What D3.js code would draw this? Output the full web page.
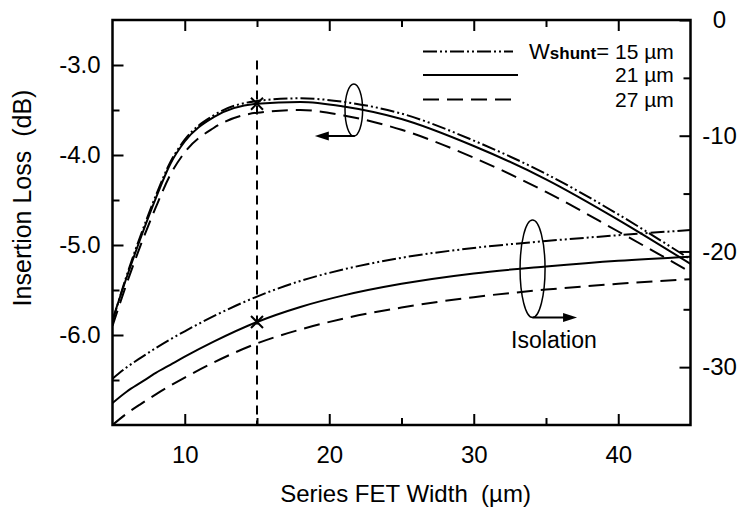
<!DOCTYPE html>
<html>
<head>
<meta charset="utf-8">
<script src="https://cdn.jsdelivr.net/npm/d3@7"></script>
<style>
  body { margin: 0; background: #fff; }
  text { font-family: "Liberation Sans", Arial, Helvetica, sans-serif; fill: #000; }
</style>
</head>
<body>
<script>
// series FET width (um)
var widths = [5, 6, 7, 8, 9, 10, 12, 15, 18, 21, 25, 30, 35, 40, 45];

// insertion loss (dB), left axis
var il15 = [-5.85, -5.33, -4.87, -4.45, -4.08, -3.83, -3.56, -3.40, -3.37, -3.41, -3.54, -3.84, -4.21, -4.66, -5.16];
var il21 = [-5.83, -5.35, -4.90, -4.48, -4.10, -3.85, -3.58, -3.43, -3.41, -3.46, -3.60, -3.90, -4.27, -4.72, -5.21];
var il27 = [-5.90, -5.42, -4.98, -4.58, -4.22, -3.97, -3.70, -3.53, -3.50, -3.56, -3.72, -4.03, -4.41, -4.85, -5.30];

// isolation (dB), right axis
var iso15 = [-31.0, -30.0, -29.15, -28.35, -27.6, -26.9, -25.6, -23.9, -22.55, -21.55, -20.55, -19.7, -19.1, -18.6, -18.15];
var iso21 = [-33.1, -32.1, -31.3, -30.5, -29.8, -29.1, -27.8, -26.1, -24.8, -23.8, -22.8, -21.9, -21.3, -20.8, -20.45];
var iso27 = [-35.0, -34.0, -33.15, -32.35, -31.6, -30.9, -29.6, -27.95, -26.75, -25.8, -24.85, -23.95, -23.3, -22.8, -22.4];

var shuntLabels = ["15 µm", "21 µm", "27 µm"];

var xMajor = [10, 20, 30, 40], xMinor = [15, 25, 35];
var leftMajor = [-6, -5, -4, -3], leftMinor = [-6.5, -5.5, -4.5, -3.5];
var rightMajor = [-30, -20, -10, 0], rightMinor = [-25, -15, -5];

var W = 747, H = 512;
var X0 = 112.5, X1 = 690.5, Y0 = 20, Y1 = 425;

var dashes = ["14,3,2,3,2,3", null, "16,8"];

var svg = d3.select("body").append("svg")
    .attr("width", W).attr("height", H);

svg.append("rect").attr("width", W).attr("height", H).attr("fill", "#fff");

var x = d3.scaleLinear().domain([5, 45]).range([X0, X1]);
var yL = d3.scaleLinear().domain([-7, -2.5]).range([Y1, Y0]);
var yR = d3.scaleLinear().domain([-35, 0]).range([Y1, Y0]);

// plain hyphen minus like the original
function hyph(f) {
    return function (d) { return f(d).replace("\u2212", "-"); };
}

svg.append("clipPath").attr("id", "plotclip")
    .append("rect").attr("x", X0).attr("y", Y0)
    .attr("width", X1 - X0).attr("height", Y1 - Y0);

var plot = svg.append("g").attr("clip-path", "url(#plotclip)");

function drawSeries(vals, yScale, i) {
    var pts = widths.map(function (w, k) { return [w, vals[k]]; });
    var line = d3.line()
        .x(function (d) { return x(d[0]); })
        .y(function (d) { return yScale(d[1]); })
        .curve(d3.curveMonotoneX);
    plot.append("path")
        .attr("d", line(pts))
        .attr("fill", "none")
        .attr("stroke", "#000")
        .attr("stroke-width", 2)
        .attr("stroke-dasharray", dashes[i]);
}

[il15, il21, il27].forEach(function (s, i) { drawSeries(s, yL, i); });
[iso15, iso21, iso27].forEach(function (s, i) { drawSeries(s, yR, i); });

// vertical marker line at 15 um
plot.append("line")
    .attr("x1", x(15)).attr("x2", x(15))
    .attr("y1", yL(-2.95)).attr("y2", Y1)
    .attr("stroke", "#000").attr("stroke-width", 2)
    .attr("stroke-dasharray", "9,6");

// X marks on the 21 um curves
function cross(px, py) {
    var s = 6;
    svg.append("path")
        .attr("d", "M" + (px - s) + "," + (py - s) + "L" + (px + s) + "," + (py + s) +
                   "M" + (px - s) + "," + (py + s) + "L" + (px + s) + "," + (py - s))
        .attr("stroke", "#000").attr("stroke-width", 2).attr("fill", "none");
}
var k15 = widths.indexOf(15);
cross(x(15), yL(il21[k15]));
cross(x(15), yR(iso21[k15]));

// frame
svg.append("rect")
    .attr("x", X0).attr("y", Y0)
    .attr("width", X1 - X0).attr("height", Y1 - Y0)
    .attr("fill", "none").attr("stroke", "#000").attr("stroke-width", 2.5);

function tidy(g) {
    g.select(".domain").remove();
    g.selectAll(".tick line").attr("stroke", "#000").attr("stroke-width", 2);
    g.selectAll("text").style("font-size", "24px").attr("fill", "#000");
}

// bottom
svg.append("g").attr("transform", "translate(0," + Y1 + ")")
    .call(d3.axisBottom(x).tickValues(xMajor).tickSize(-11).tickPadding(21).tickFormat(d3.format("d")))
    .call(tidy);
svg.append("g").attr("transform", "translate(0," + Y1 + ")")
    .call(d3.axisBottom(x).tickValues(xMinor).tickSize(-7).tickFormat(""))
    .call(tidy);
// top
svg.append("g").attr("transform", "translate(0," + Y0 + ")")
    .call(d3.axisTop(x).tickValues(xMajor).tickSize(-11).tickFormat(""))
    .call(tidy);
svg.append("g").attr("transform", "translate(0," + Y0 + ")")
    .call(d3.axisTop(x).tickValues(xMinor).tickSize(-7).tickFormat(""))
    .call(tidy);
// left
svg.append("g").attr("transform", "translate(" + X0 + ",0)")
    .call(d3.axisLeft(yL).tickValues(leftMajor).tickSize(-11).tickPadding(12).tickFormat(hyph(d3.format(".1f"))))
    .call(tidy);
svg.append("g").attr("transform", "translate(" + X0 + ",0)")
    .call(d3.axisLeft(yL).tickValues(leftMinor).tickSize(-7).tickFormat(""))
    .call(tidy);
// right
var gr = svg.append("g").attr("transform", "translate(" + X1 + ",0)")
    .call(d3.axisRight(yR).tickValues(rightMajor).tickSize(-11).tickFormat(hyph(d3.format("d"))))
    .call(tidy);
gr.selectAll("text").attr("text-anchor", "middle").attr("x", 29);
svg.append("g").attr("transform", "translate(" + X1 + ",0)")
    .call(d3.axisRight(yR).tickValues(rightMinor).tickSize(-7).tickFormat(""))
    .call(tidy);

// axis titles
svg.append("text")
    .attr("x", (X0 + X1) / 2 + 4).attr("y", 502)
    .attr("text-anchor", "middle")
    .style("font-size", "24px")
    .text("Series FET Width\u00a0 (µm)");
svg.append("text")
    .attr("transform", "translate(31,198) rotate(-90)")
    .attr("text-anchor", "middle")
    .style("font-size", "25px")
    .text("Insertion Loss\u00a0 (dB)");

// legend
var legY = [51.5, 75, 99.5];
var lg = svg.append("g");
shuntLabels.forEach(function (lab, i) {
    lg.append("line")
        .attr("x1", 423).attr("x2", i === 0 ? 513 : 518)
        .attr("y1", legY[i]).attr("y2", legY[i])
        .attr("stroke", "#000").attr("stroke-width", 2)
        .attr("stroke-dasharray", dashes[i]);
    lg.append("text")
        .attr("x", 615).attr("y", legY[i] + 7)
        .style("font-size", "21px")
        .text(lab);
});
var wt = lg.append("text").attr("x", 609).attr("y", legY[0] + 7)
    .attr("text-anchor", "end").style("font-size", "22px");
wt.append("tspan").text("W");
wt.append("tspan").style("font-weight", "bold").style("font-size", "17px").text("shunt");
wt.append("tspan").text("=");

// annotations: ellipses with arrows
function arrowLeftRight(x1, x2, py) {
    var dir = x2 > x1 ? 1 : -1;
    svg.append("line")
        .attr("x1", x1).attr("x2", x2 - dir * 12)
        .attr("y1", py).attr("y2", py)
        .attr("stroke", "#000").attr("stroke-width", 2);
    svg.append("path")
        .attr("d", "M" + x2 + "," + py + "L" + (x2 - dir * 14) + "," + (py - 4.5) +
                   "L" + (x2 - dir * 14) + "," + (py + 4.5) + "Z")
        .attr("fill", "#000");
}

var ilE = { cx: x(21.7), cy: yL(-3.5), rx: 8.8, ry: 26 };
svg.append("ellipse").attr("cx", ilE.cx).attr("cy", ilE.cy)
    .attr("rx", ilE.rx).attr("ry", ilE.ry)
    .attr("fill", "none").attr("stroke", "#000").attr("stroke-width", 1.5);
arrowLeftRight(ilE.cx + 1, x(19.0), ilE.cy + ilE.ry);

var isoE = { cx: x(34.07), cy: yR(-21.5), rx: 12.5, ry: 48.7 };
svg.append("ellipse").attr("cx", isoE.cx).attr("cy", isoE.cy)
    .attr("rx", isoE.rx).attr("ry", isoE.ry)
    .attr("fill", "none").attr("stroke", "#000").attr("stroke-width", 1.5);
arrowLeftRight(isoE.cx, x(37.15), isoE.cy + isoE.ry);

svg.append("text")
    .attr("x", x(35.55)).attr("y", yR(-28.35))
    .attr("text-anchor", "middle")
    .style("font-size", "23px")
    .text("Isolation");
</script>
</body>
</html>
